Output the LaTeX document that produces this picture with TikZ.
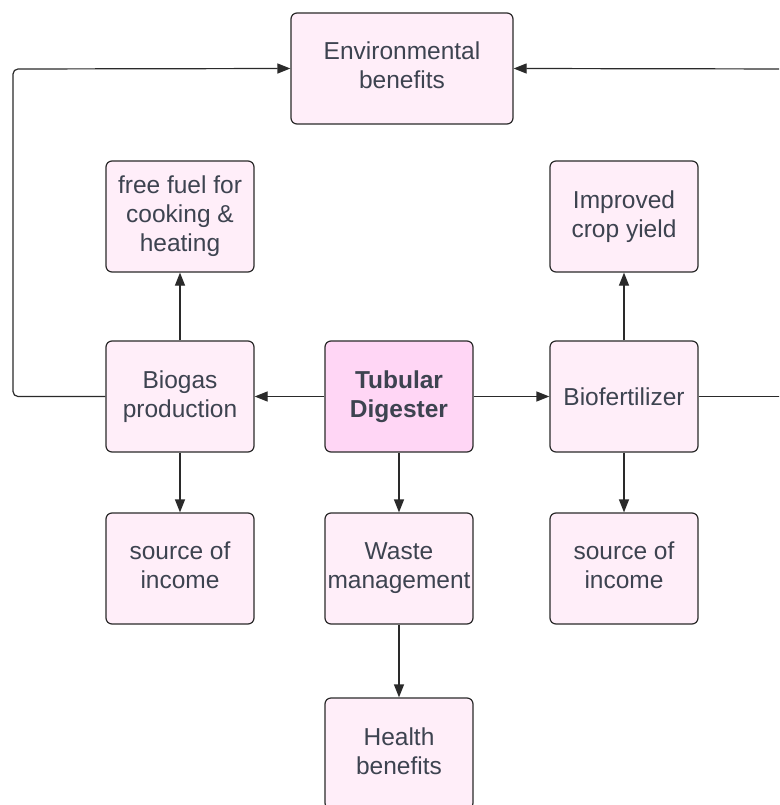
\documentclass[tikz,border=0pt]{standalone}
\usepackage{fontspec}
\setmainfont{Liberation Sans}
\usetikzlibrary{arrows.meta}
\definecolor{boxfill}{HTML}{FFEEF9}
\definecolor{corefill}{HTML}{FFD6F5}
\definecolor{txt}{HTML}{3D4350}
\definecolor{edge}{HTML}{2A2A2A}
% line box strut: keeps first and last lines centred on their cap height
\newcommand\linestrut{\rule[-5.75pt]{0pt}{29pt}}
\tikzset{
  box/.style={draw=edge, line width=1.2pt, fill=boxfill, rounded corners=6pt,
    minimum width=148pt, minimum height=111pt, inner sep=0pt, align=center,
    text=txt, font=\fontsize{24.5}{29}\selectfont,
    execute at begin node=\linestrut, execute at end node=\linestrut},
  core/.style={box, fill=corefill, font=\fontsize{24.5}{29}\selectfont\bfseries},
  link/.style={draw=edge, line width=1.2pt, -{Triangle[length=13pt,width=10pt]}},
  plain/.style={draw=edge, line width=1.2pt}
}
\begin{document}
\begin{tikzpicture}[x=1pt, y=-1pt]
\useasboundingbox (0,0) rectangle (779,805);
\clip (0,0) rectangle (779,805);
\fill[white] (0,0) rectangle (779,805);
% boxes
\node[box, minimum width=222pt] (env) at (402,68.5) {Environmental\\benefits};
\node[box] (fuel) at (180,216.5) {free fuel for\\cooking \&\\heating};
\node[box] (crop) at (624,216.5) {Improved\\crop yield};
\node[box] (biogas) at (180,396.5) {Biogas\\production};
\node[core] (tub) at (399,396.5) {Tubular\\Digester};
\node[box] (biofert) at (624,396.5) {Biofertilizer};
\node[box] (srcL) at (180,568.5) {source of\\income};
\node[box] (waste) at (399,568.5) {Waste\\management};
\node[box] (srcR) at (624,568.5) {source of\\income};
\node[box] (health) at (399,753.5) {Health\\benefits};
% connectors from the digester
\draw[link] (tub) -- (biogas);
\draw[link] (tub) -- (biofert);
\draw[link] (tub) -- (waste);
\draw[link] (waste) -- (health);
\draw[link] (biogas) -- (fuel);
\draw[link] (biogas) -- (srcL);
\draw[link] (biofert) -- (crop);
\draw[link] (biofert) -- (srcR);
% loops back to environmental benefits
\coordinate (lbend) at (13,396.5);
\coordinate (ltop) at (13,69);
\draw[link, rounded corners=5pt] (biogas.west) -- (lbend) -- (ltop) -- (env.west);
\coordinate (rout) at (800,396.5);
\coordinate (rin) at (800,69);
\draw[plain] (biofert.east) -- (rout);
\draw[link] (rin) -- (env.east);
\end{tikzpicture}
\end{document}
